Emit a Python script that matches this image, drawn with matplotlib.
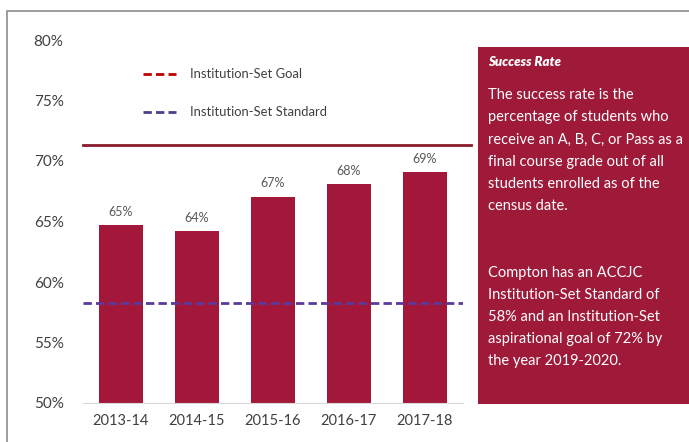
import matplotlib.pyplot as plt
from matplotlib.patches import Rectangle

plt.rcParams['font.family'] = ['Lato', 'DejaVu Sans']

years = ['2013-14', '2014-15', '2015-16', '2016-17', '2017-18']
rates = [64.7, 64.2, 67.05, 68.07, 69.1]
rate_labels = ['65%', '64%', '67%', '68%', '69%']
goal = 71.3
standard = 58.3
yticks = [50, 55, 60, 65, 70, 75, 80]

box_title = 'Success Rate'
box_lines = ['The success rate is the',
             'percentage of students who',
             'receive an A, B, C, or Pass as a',
             'final course grade out of all',
             'students enrolled as of the',
             'census date.',
             '',
             '',
             'Compton has an ACCJC',
             'Institution-Set Standard of',
             '58% and an Institution-Set',
             'aspirational goal of 72% by',
             'the year 2019-2020.']

red = '#a3173b'
W, H = 689, 442

fig = plt.figure(figsize=(W / 100, H / 100), dpi=100)

# outer frame and side box
fig.patches.append(Rectangle((7 / W, -0.2), 1.2, 1.2 - 11 / H, transform=fig.transFigure,
                             fill=False, edgecolor='#8c8c8c', linewidth=1.2))
fig.patches.append(Rectangle((478 / W, 1 - 404 / H), 1, (404 - 47) / H,
                             transform=fig.transFigure, facecolor='#9e1a38',
                             edgecolor='none'))

ax = fig.add_axes([83 / W, 1 - 403 / H, 380 / W, 363 / H])
x = range(len(years))
ax.bar(x, rates, width=0.57, color=red, bottom=0)
for i, (r, lab) in enumerate(zip(rates, rate_labels)):
    ax.text(i, r + 0.6, lab, ha='center', va='bottom', fontsize=9, color='#595959')

ax.plot([-0.5, 4.6], [goal, goal], color='#8b1a2b', linewidth=2, clip_on=False)
ax.plot([-0.5, 4.5], [standard, standard], color='#5a3a9c', linewidth=2,
        linestyle=(0, (3, 1.5)))

ax.set_ylim(50, 80)
ax.set_xlim(-0.5, 4.5)
ax.set_yticks(yticks)
ax.set_yticklabels([f'{t}%' for t in yticks])
ax.set_xticks(list(x))
ax.set_xticklabels(years)
ax.tick_params(length=0, labelsize=10.5, colors='#404040')
ax.tick_params(axis='y', labelsize=11, pad=14)
ax.tick_params(axis='x', pad=8)
for s in ['top', 'right', 'left']:
    ax.spines[s].set_visible(False)
ax.spines['bottom'].set_color('#d9d9d9')

# legend
ax.plot([0.158, 0.245], [0.906, 0.906], transform=ax.transAxes, color='#c00000',
        linewidth=2, linestyle=(0, (3, 1.5)))
ax.text(0.282, 0.906, 'Institution-Set Goal', transform=ax.transAxes,
        va='center', fontsize=9.4, color='#404040')
ax.plot([0.158, 0.245], [0.802, 0.802], transform=ax.transAxes, color='#4b3f8c',
        linewidth=2, linestyle=(0, (3, 1.5)))
ax.text(0.282, 0.802, 'Institution-Set Standard', transform=ax.transAxes,
        va='center', fontsize=9.4, color='#404040')

# side box text
fig.text(488 / W, 1 - 62 / H, box_title, fontsize=9.5, fontweight='heavy',
         fontstyle='italic', color='white', va='center')
for k, line in enumerate(box_lines):
    fig.text(488 / W, 1 - (95 + 22.2 * k) / H, line, fontsize=10.5,
             color='white', va='center')

fig.savefig('out.png', dpi=100)
